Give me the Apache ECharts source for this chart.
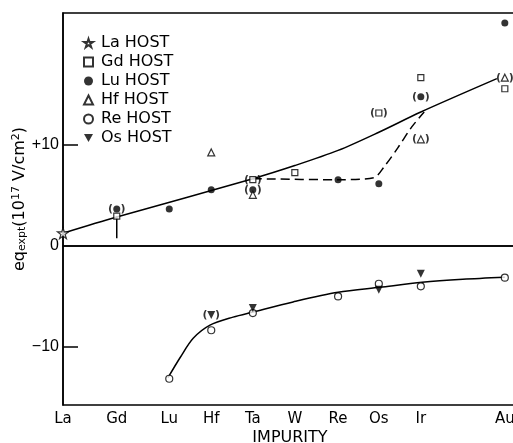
<!DOCTYPE html>
<html>
<head>
<meta charset="utf-8">
<style>
  html, body { margin: 0; padding: 0; background: #fff; }
  #chart { width: 513px; height: 443px; }
</style>
<script src="https://cdn.jsdelivr.net/npm/echarts@6/dist/echarts.min.js"></script>
</head>
<body>
<div id="chart"></div>
<script>
// impurities along the x axis, and where each one sits (axis units)
var impurities = ['La', 'Gd', 'Lu', 'Hf', 'Ta', 'W', 'Re', 'Os', 'Ir', 'Au'];
var impurityX = [0, 1.28, 2.53, 3.53, 4.52, 5.52, 6.55, 7.52, 8.52, 10.52];
var yTicks = [-10, 0, 10];

// measured points, [impurity, eq]
var laHost = [['La', 1.2]];
var gdHost = [['Gd', 2.9], ['W', 7.2], ['Ir', 16.6], ['Au', 15.5]];
var gdHostParen = [['Ta', 6.5], ['Os', 13.1]];
var luHost = [['Lu', 3.6], ['Hf', 5.5], ['Re', 6.5], ['Os', 6.1], ['Au', 22.0]];
var luHostParen = [['Gd', 3.6], ['Ta', 5.5], ['Ir', 14.7]];
var hfHost = [['Hf', 9.2], ['Ta', 5.0]];
var hfHostParen = [['Ir', 10.5], ['Au', 16.6]];
var reHost = [['Lu', -13.2], ['Hf', -8.4], ['Ta', -6.7], ['Re', -5.05], ['Os', -3.8], ['Ir', -4.05], ['Au', -3.2]];
var osHost = [['Ta', -6.2], ['Os', -4.4], ['Ir', -2.8]];
var osHostParen = [['Hf', -6.9]];

// drawn curves, [x, eq]
var upperCurve = [[0, 1.2], [1.28, 2.8], [4.52, 6.6], [5.52, 7.9], [6.55, 9.4], [7.52, 11.2], [8.52, 13.2], [10.33, 16.5]];
var gdBar = [[1.28, 2.9], [1.28, 0.7]];
var dashedCurve = [[4.52, 6.6], [6.55, 6.5], [7.4, 6.7], [7.65, 7.8], [7.98, 9.7], [8.3, 11.7], [8.6, 13.2]];
var lowerCurve = [[2.5, -13.1], [2.79, -11.1], [3.1, -9.2], [3.5, -7.9], [4.05, -7.1], [4.52, -6.6], [5.48, -5.6], [6.55, -4.65], [7.55, -4.15], [8.55, -3.65], [9.52, -3.35], [10.52, -3.15]];

function pts(list) {
    return list.map(function (p) { return [impurityX[impurities.indexOf(p[0])], p[1]]; });
}

var FONT = 'DejaVu Sans';
var star = 'path://M50,2 L61.2,36.2 L97.6,36.2 L68.2,57.6 L79.4,92 L50,70.6 L20.6,92 L31.8,57.6 L2.4,36.2 L38.8,36.2 Z';
var downTri = 'path://M0,0 L10,0 L5,9 Z';
var openStyle = { color: '#fff', borderColor: '#000', borderWidth: 1.2 };
var fillStyle = { color: '#000' };
var parenLabel = {
    show: true, position: 'inside', formatter: '(  )',
    fontSize: 11, fontWeight: 'bold', color: '#000', fontFamily: FONT
};

function scatter(name, data, symbol, size, style, paren) {
    return {
        name: name, type: 'scatter', data: pts(data),
        symbol: symbol, symbolSize: size,
        itemStyle: style, label: paren ? parenLabel : { show: false },
        z: 5, silent: true
    };
}

function curve(data, dashed) {
    return {
        type: 'line', data: data, smooth: 0.3, symbol: 'none', silent: true,
        lineStyle: { color: '#000', width: 1.5, type: dashed ? [9, 5] : 'solid' }
    };
}

var chart = echarts.init(document.getElementById('chart'));
var option = {
    animation: false,
    backgroundColor: '#fff',
    textStyle: { fontFamily: FONT, color: '#000' },
    grid: {
        left: 63, top: 13, right: -4, bottom: 38,
        outerBoundsMode: 'none', containLabel: false,
        show: true, borderColor: '#000', borderWidth: 1.5
    },
    legend: {
        orient: 'vertical', left: 78, top: 30, itemGap: 3,
        itemWidth: 9, itemHeight: 9,
        data: ['La HOST', 'Gd HOST', 'Lu HOST', 'Hf HOST', 'Re HOST', 'Os HOST'],
        textStyle: { fontSize: 16, lineHeight: 16, color: '#000', fontFamily: FONT, padding: [0, 0, 0, 3] }
    },
    xAxis: {
        type: 'value', min: 0, max: 10.81,
        name: 'IMPURITY', nameLocation: 'middle', nameGap: 25, nameMoveOverlap: false,
        nameTextStyle: { fontSize: 16, color: '#000', fontFamily: FONT },
        splitLine: { show: false },
        axisTick: { show: false },
        axisLine: { lineStyle: { color: '#000', width: 1.5 } },
        axisLabel: {
            customValues: impurityX, margin: 7, fontSize: 15, color: '#000', fontFamily: FONT,
            formatter: function (v) {
                var i = impurityX.indexOf(v);
                return i >= 0 ? impurities[i] : '';
            }
        }
    },
    yAxis: {
        type: 'value', min: -15.8, max: 23,
        name: 'eq{sub|expt}(10{sup|17} V/cm{sup|2})',
        nameLocation: 'middle', nameRotate: 90, nameGap: 35, nameMoveOverlap: false,
        nameTextStyle: {
            fontSize: 16, color: '#000', fontFamily: FONT, padding: [0, 0, 0, 20],
            rich: {
                sub: { fontSize: 11, verticalAlign: 'bottom', padding: [6, 0, 0, 0], fontFamily: FONT },
                sup: { fontSize: 11, verticalAlign: 'top', padding: [0, 0, 6, 0], fontFamily: FONT }
            }
        },
        splitLine: { show: false },
        axisLine: { lineStyle: { color: '#000', width: 1.5 } },
        axisTick: { inside: true, length: 15, customValues: [-10, 10], lineStyle: { color: '#000', width: 1.5 } },
        axisLabel: {
            customValues: yTicks, margin: 4, fontSize: 16, color: '#000', fontFamily: 'Liberation Sans',
            formatter: function (v) { return v > 0 ? '+' + v : (v < 0 ? '\u2212' + Math.abs(v) : '0'); }
        }
    },
    series: [
        Object.assign(curve(upperCurve, false), {
            markLine: {
                silent: true, symbol: 'none', label: { show: false },
                lineStyle: { color: '#000', width: 1.5, type: 'solid' },
                data: [{ yAxis: 0 }]
            }
        }),
        curve(gdBar, false),
        curve(dashedCurve, true),
        curve(lowerCurve, false),
        scatter('La HOST', laHost, star, 11, openStyle, false),
        scatter('Gd HOST', gdHost, 'rect', 6, openStyle, false),
        scatter('Gd HOST', gdHostParen, 'rect', 6, openStyle, true),
        scatter('Lu HOST', luHost, 'circle', 7, fillStyle, false),
        scatter('Lu HOST', luHostParen, 'circle', 7, fillStyle, true),
        scatter('Hf HOST', hfHost, 'triangle', 7, openStyle, false),
        scatter('Hf HOST', hfHostParen, 'triangle', 7, openStyle, true),
        scatter('Re HOST', reHost, 'circle', 7, openStyle, false),
        scatter('Os HOST', osHost, downTri, 8, fillStyle, false),
        scatter('Os HOST', osHostParen, downTri, 8, fillStyle, true)
    ]
};
chart.setOption(option);
window.addEventListener('resize', function () { chart.resize(); });
</script>
</body>
</html>
